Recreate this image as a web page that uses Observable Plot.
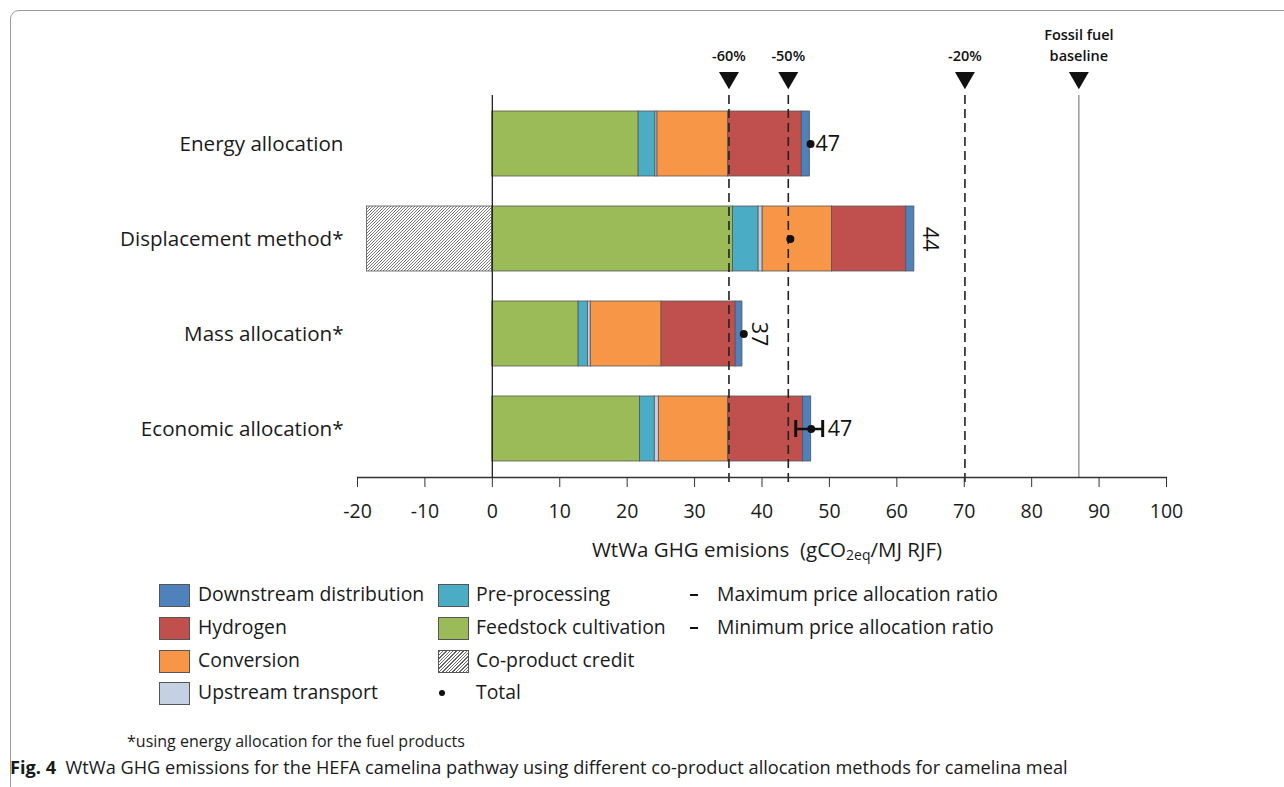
<!DOCTYPE html>
<html><head><meta charset="utf-8">
<script src="https://cdn.jsdelivr.net/npm/d3@7"></script>
<script src="https://cdn.jsdelivr.net/npm/@observablehq/plot@0.6"></script>
<style>
body{margin:0;background:#fff;font-family:"Open Sans",sans-serif;color:#1a1a1a}
#wrap{position:relative;width:1284px;height:787px;overflow:hidden;background:#fff}
#box{position:absolute;left:10px;top:10px;width:1320px;height:820px;border:1.3px solid #9a9a9a;border-radius:9px;box-sizing:border-box}
#chart{position:absolute;left:0;top:0}
#xtitle{position:absolute;left:0;width:1534px;top:535px;text-align:center;font-size:20.5px;white-space:pre}
#xtitle sub{font-size:14px;vertical-align:-3px}
.leg{position:absolute;font-size:19.4px;line-height:24px;white-space:nowrap}
.sw{position:absolute;width:31px;height:23px;box-sizing:border-box;border:1px solid #555}
.dash{position:absolute;width:8px;height:2px;background:#111}
.ldot{position:absolute;width:6px;height:6px;border-radius:50%;background:#111}
#foot{position:absolute;left:127px;top:730px;font-size:16px}
#cap{position:absolute;left:10px;top:755px;font-size:18.2px}
</style></head>
<body><div id="wrap"><div id="box"></div><div id="chart"></div>
<div id="xtitle">WtWa GHG emisions  (gCO<sub>2eq</sub>/MJ RJF)</div>
<div id="legend"></div>
<div id="foot">*using energy allocation for the fuel products</div>
<div id="cap"><b>Fig. 4</b>&nbsp; WtWa GHG emissions for the HEFA camelina pathway using different co-product allocation methods for camelina meal</div>
</div>
<script>
// ---- data ----
const methods = ["Energy allocation", "Displacement method*", "Mass allocation*", "Economic allocation*"];
const stages = ["Co-product credit", "Feedstock cultivation", "Pre-processing", "Upstream transport", "Conversion", "Hydrogen", "Downstream distribution"];
const stageColors = ["url(#hatch)", "#9BBB59", "#4BACC6", "#C5D0E2", "#F79646", "#C0504D", "#4F81BD"];
const coproductCredit = [0, -18.6, 0, 0];
const feedstockCultivation = [21.7, 35.7, 12.8, 21.9];
const preProcessing = [2.5, 3.8, 1.4, 2.2];
const upstreamTransport = [0.3, 0.6, 0.4, 0.6];
const conversion = [10.5, 10.3, 10.5, 10.3];
const hydrogen = [10.9, 11.0, 11.0, 11.1];
const downstreamDistribution = [1.2, 1.2, 1.0, 1.2];
const totals = [47.2, 44.2, 37.3, 47.3];
const totalLabels = ["47", "44", "37", "47"];
const priceRatioMin = [null, null, null, 45.0];
const priceRatioMax = [null, null, null, 49.0];
const targetLabels = ["-60%", "-50%", "-20%"];
const targetValues = [35.1, 43.9, 70.1];
const fossilBaseline = 87.0;
const fossilLabel = "Fossil fuel\nbaseline";
const xTicks = [-20, -10, 0, 10, 20, 30, 40, 50, 60, 70, 80, 90, 100];

const legendCol1 = ["Downstream distribution", "Hydrogen", "Conversion", "Upstream transport"];
const legendCol2 = ["Pre-processing", "Feedstock cultivation", "Co-product credit", "Total"];
const legendCol3 = ["Maximum price allocation ratio", "Minimum price allocation ratio"];

// ---- tidy table ----
const series = [coproductCredit, feedstockCultivation, preProcessing, upstreamTransport, conversion, hydrogen, downstreamDistribution];
const rows = [];
methods.forEach((m, i) => stages.forEach((s, j) => { if (series[j][i] !== 0) rows.push({method: m, stage: s, value: series[j][i]}); }));
const pts = methods.map((m, i) => ({method: m, total: totals[i], label: totalLabels[i], lo: priceRatioMin[i], hi: priceRatioMax[i],
  end: feedstockCultivation[i] + preProcessing[i] + upstreamTransport[i] + conversion[i] + hydrogen[i] + downstreamDistribution[i]}));
const targets = targetLabels.map((t, i) => ({label: t, x: targetValues[i]}));
const marks = targets.concat([{label: fossilLabel, x: fossilBaseline}]);

const FONT = '"Open Sans", sans-serif';
const plot = Plot.plot({
  width: 1284, height: 570,
  marginLeft: 357, marginRight: 118, marginTop: 95, marginBottom: 93,
  style: {fontFamily: FONT, color: "#1a1a1a", background: "transparent"},
  x: {domain: [-20, 100], ticks: xTicks},
  y: {domain: methods, paddingInner: 0.32, paddingOuter: 0.16},
  color: {domain: stages, range: stageColors},
  marks: [
    Plot.barX(rows, Plot.stackX({x: "value", y: "method", fill: "stage", stroke: "#555", strokeWidth: 0.8})),
    Plot.ruleX([0], {stroke: "#222", strokeWidth: 1.3}),
    Plot.ruleX(targets, {x: "x", stroke: "#222", strokeWidth: 1.6, strokeDasharray: "9,5", insetBottom: -10}),
    Plot.ruleX([fossilBaseline], {stroke: "#8a8a8a", strokeWidth: 1.3}),
    Plot.dot(marks, {x: "x", frameAnchor: "top", dy: -17.8, symbol: "triangle", rotate: 180, r: 7.4, fill: "#111", stroke: "none"}),
    Plot.text(marks, {x: "x", text: "label", frameAnchor: "top", dy: -35, lineAnchor: "bottom", fontSize: 14.5, fontWeight: 600, fill: "#111", lineHeight: 1.4}),
    Plot.frame({anchor: "bottom", stroke: "#333", strokeWidth: 1.3}),
    Plot.axisX({ticks: xTicks, tickSize: 10, tickPadding: 17, fontSize: 19.5, stroke: "#333", label: null, tickFormat: d => String(d)}),
    Plot.axisY({tickSize: 0, tickPadding: 14, fontSize: 20.6, label: null}),
    Plot.ruleY(pts.filter(d => d.lo != null), {y: "method", x1: "lo", x2: "hi", stroke: "#111", strokeWidth: 2.5}),
    Plot.tickX(pts.filter(d => d.lo != null), {y: "method", x: "lo", stroke: "#111", strokeWidth: 3, insetTop: 24, insetBottom: 24}),
    Plot.tickX(pts.filter(d => d.hi != null), {y: "method", x: "hi", stroke: "#111", strokeWidth: 3, insetTop: 24, insetBottom: 24}),
    Plot.dot(pts, {x: "total", y: "method", r: 4, fill: "#111"}),
    Plot.text(pts.filter((d, i) => i === 0), {x: "total", y: "method", text: "label", textAnchor: "start", dx: 5, fontSize: 21.5, fill: "#111"}),
    Plot.text(pts.filter(d => d.hi != null), {x: "hi", y: "method", text: "label", textAnchor: "start", dx: 5, fontSize: 21.5, fill: "#111"}),
    Plot.text(pts.filter((d, i) => i === 1 || i === 2), {x: "end", y: "method", text: "label", rotate: 90, dx: 16, fontSize: 21.5, fill: "#111"})
  ]
});
// hatch pattern
const svg = d3.select(plot);
const defs = svg.insert("defs", ":first-child");
const pat = defs.append("pattern").attr("id", "hatch").attr("patternUnits", "userSpaceOnUse").attr("width", 3).attr("height", 3);
pat.append("rect").attr("width", 3).attr("height", 3).attr("fill", "#fff");
pat.append("path").attr("d", "M-1,1 l2,-2 M0,3 l3,-3 M2,4 l2,-2").attr("stroke", "#555").attr("stroke-width", 0.8);
document.getElementById("chart").appendChild(plot);

// legend
const leg = document.getElementById("legend");
const rowY = [595, 628, 661, 693];
const colorOf = s => stageColors[stages.indexOf(s)];
function addText(x, y, t) { const d = document.createElement("div"); d.className = "leg"; d.style.left = x + "px"; d.style.top = (y - 13) + "px"; d.textContent = t; leg.appendChild(d); }
function addSwatch(x, y, s) { const d = document.createElement("div"); d.className = "sw"; d.style.left = x + "px"; d.style.top = (y - 11.5) + "px";
  if (s === "Co-product credit") d.style.background = "repeating-linear-gradient(135deg,#666 0 1px,#fff 1px 2.4px)"; else d.style.background = colorOf(s); leg.appendChild(d); }
legendCol1.forEach((s, i) => { addSwatch(159, rowY[i], s); addText(198, rowY[i], s); });
legendCol2.forEach((s, i) => {
  if (s === "Total") { const d = document.createElement("div"); d.className = "ldot"; d.style.left = "439px"; d.style.top = (rowY[i] - 3) + "px"; leg.appendChild(d); }
  else addSwatch(438, rowY[i], s);
  addText(476, rowY[i], s);
});
legendCol3.forEach((s, i) => { const d = document.createElement("div"); d.className = "dash"; d.style.left = "690px"; d.style.top = (rowY[i] - 1) + "px"; leg.appendChild(d); addText(717, rowY[i], s); });
</script></body></html>
